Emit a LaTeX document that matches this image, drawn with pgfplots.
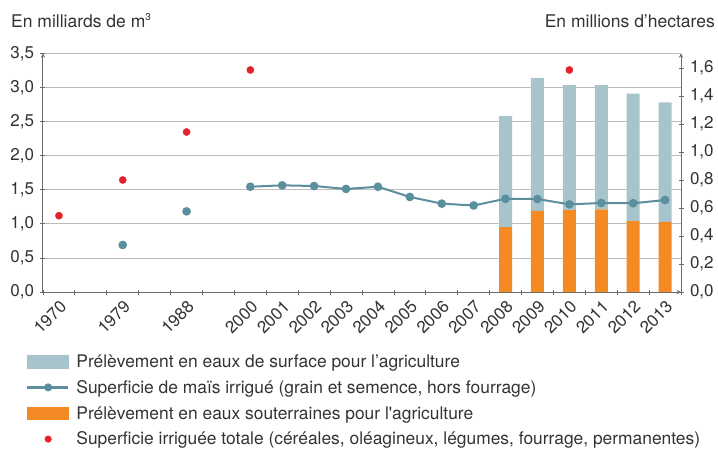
\documentclass[border=0pt]{standalone}
\usepackage{pgfplots}
\pgfplotsset{compat=1.18}
\usepackage{fontspec}
\setmainfont{TeX Gyre Heros}
\definecolor{surf}{HTML}{A7C4CD}
\definecolor{maize}{HTML}{5B8F9E}
\definecolor{souter}{HTML}{F38A24}
\definecolor{tot}{HTML}{E8202A}
\definecolor{gridc}{HTML}{BDBDBD}
\definecolor{axc}{HTML}{6A6A6A}
\definecolor{txt}{HTML}{333333}
\pgfplotsset{
  common/.style={
    scale only axis, width=638pt, height=238.7pt,
    xmin=-0.5, xmax=19.5, ymin=0,
    tick align=outside, major tick length=5pt, minor tick length=5pt,
    tick style={axc, line width=0.8pt},
    axis line style={axc, line width=1pt, -},
    /pgf/number format/assume math mode=true,
    yticklabel style={/pgf/number format/fixed, /pgf/number format/fixed zerofill, /pgf/number format/precision=1, /pgf/number format/use comma},
    tick label style={font=\fontsize{17}{20}\selectfont, text=txt},
  }
}
\begin{document}
\begin{tikzpicture}[font=\fontsize{17.5}{21}\selectfont]
\useasboundingbox (-43pt,-156pt) rectangle (675pt,292pt);
\begin{axis}[common, ymax=3.5,
  ytick={0,0.5,1,1.5,2,2.5,3,3.5},
  axis y line=left, axis x line=bottom,
  ymajorgrids, grid style={gridc, line width=0.8pt},
  yticklabel style={xshift=-3pt},
  xtick={0,2,4,6,7,8,9,10,11,12,13,14,15,16,17,18,19},
  xticklabels={1970,1979,1988,2000,2001,2002,2003,2004,2005,2006,2007,2008,2009,2010,2011,2012,2013},
  major x tick style={draw=none},
  minor xtick={-0.5,0.5,...,19.5},
  xticklabel style={yshift=-3.5pt, xshift=0pt, rotate=45, anchor=north east, inner sep=1pt},
  ybar stacked, bar width=13pt,
]
\addplot[fill=souter, draw=none] coordinates {(14,0.95) (15,1.19) (16,1.20) (17,1.21) (18,1.04) (19,1.03)};
\addplot[fill=surf, draw=none] coordinates {(14,1.63) (15,1.95) (16,1.835) (17,1.825) (18,1.87) (19,1.75)};
\end{axis}
\begin{axis}[common, ymax=1.705,
  ytick={0,0.2,0.4,0.6,0.8,1.0,1.2,1.4,1.6},
  axis y line=right, hide x axis,
  yticklabel style={xshift=3pt},
  unbounded coords=jump,
  legend cell align=left,
  legend style={draw=none, fill=none, at={([xshift=-20pt,yshift=-61pt]axis description cs:0,0)}, anchor=north west,
    font=\fontsize{17.4}{21}\selectfont, text=txt, row sep=9.8pt,
    nodes={inner sep=0pt, text height=12pt, text depth=4pt}},
]
\addlegendimage{legend image code/.code={\path[draw=none,fill=none] (0,0) (49pt,0); \fill[surf] (0,-4.5pt) rectangle (41pt,7.9pt);}}
\addlegendentry{Prélèvement en eaux de surface pour l’agriculture}
\addplot[maize, line width=2pt, mark=*, mark size=3.3pt, mark options={fill=maize, draw=maize},
  legend image code/.code={\path[draw=none,fill=none] (0,0) (49pt,0); \draw[maize, line width=2.5pt] (0,1.7pt) -- (41pt,1.7pt); \fill[maize] (20.7pt,1.7pt) circle (3pt);}]
  coordinates {(2,0.336) (3,nan) (4,0.576) (5,nan) (6,0.752) (7,0.762) (8,0.757) (9,0.736) (10,0.752) (11,0.679) (12,0.631) (13,0.618) (14,0.666) (15,0.664) (16,0.626) (17,0.636) (18,0.634) (19,0.657)};
\addlegendentry{Superficie de maïs irrigué (grain et semence, hors fourrage)}
\addlegendimage{legend image code/.code={\path[draw=none,fill=none] (0,0) (49pt,0); \fill[souter] (0,-4.5pt) rectangle (41pt,7.9pt);}}
\addlegendentry{Prélèvement en eaux souterraines pour l\textquotesingle agriculture}
\addplot[only marks, mark=*, mark size=3.6pt, mark options={fill=tot, draw=tot},
  legend image code/.code={\path[draw=none,fill=none] (0,0) (49pt,0); \fill[tot] (20.7pt,1.7pt) circle (3.3pt);}]
  coordinates {(0,0.545) (2,0.80) (4,1.143) (6,1.586) (16,1.586)};
\addlegendentry{Superficie irriguée totale (céréales, oléagineux, légumes, fourrage, permanentes)}
\end{axis}
\node[anchor=base west, text=txt, inner sep=0pt] at (-32pt,264.7pt) {En milliards de m\raisebox{6.5pt}{\fontsize{10}{10}\selectfont 3}};
\node[anchor=base east, text=txt, inner sep=0pt] at (672pt,264.7pt) {En millions d’hectares};
\end{tikzpicture}
\end{document}
